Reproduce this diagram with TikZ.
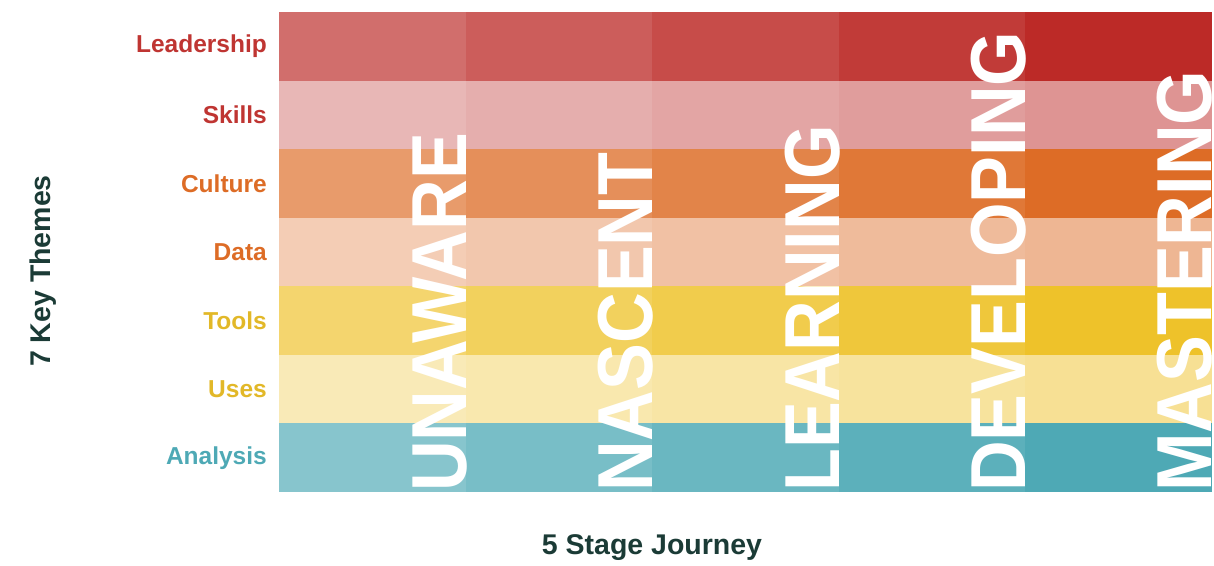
\documentclass[tikz,border=0pt]{standalone}
\usepackage{fontspec}
\setmainfont{Liberation Sans}
\usetikzlibrary{positioning}

\definecolor{leadred}{HTML}{BC2A27}
\definecolor{cultorange}{HTML}{DD6C26}
\definecolor{toolyellow}{HTML}{EEC22A}
\definecolor{analteal}{HTML}{4EA9B5}
\definecolor{axisgreen}{HTML}{1B3B36}

\begin{document}
\begin{tikzpicture}[
    x=1pt, y=-1pt,
    theme/.style={anchor=east, inner sep=0pt, font=\fontsize{24.5}{24.5}\selectfont\bfseries},
    axis/.style={inner sep=0pt, text=axisgreen, font=\fontsize{28.5}{28.5}\selectfont\bfseries},
    stage/.style={anchor=base west, rotate=90, inner sep=0pt, text=white,
                  font=\fontsize{78}{78}\selectfont\bfseries},
]
    \useasboundingbox (0,0) rectangle (1214,565);

    % Grid of coloured cells, 7 rows by 5 columns
    \foreach \row/\base/\pct in {0/leadred/100, 1/leadred/50, 2/cultorange/100,
                                  3/cultorange/50, 4/toolyellow/100, 5/toolyellow/50,
                                  6/analteal/100}{
        \foreach \col/\op in {0/68, 1/76, 2/84, 3/92, 4/100}{
            \pgfmathsetmacro\mix{\pct*\op/100}
            \fill[\base!\mix!white] (279+\col*186.6, 12+\row*68.57)
                rectangle ++(186.6, 68.57);
        }
    }

    % Theme names
    \node[theme, text=leadred!95!white]    (Lead) at (267, 46.3)  {Leadership};
    \node[theme, text=leadred!95!white]    (Skil) at (267, 114.9) {Skills};
    \node[theme, text=cultorange]          (Cult) at (267, 183.4) {Culture};
    \node[theme, text=cultorange]          (Data) at (267, 252.0) {Data};
    \node[theme, text=toolyellow!95!black] (Tool) at (267, 320.6) {Tools};
    \node[theme, text=toolyellow!95!black] (Uses) at (267, 389.1) {Uses};
    \node[theme, text=analteal]            (Anal) at (267, 457.7) {Analysis};

    % Stage words, cut off at the grid
    \begin{scope}
        \clip (279,12) rectangle (1212,492);
        \node[stage] (Unaw) at (466.0, 492) {\scalebox{0.9}[1]{UNAWARE}};
        \node[stage] (Nasc) at (652.6, 492) {\scalebox{0.9}[1]{NASCENT}};
        \node[stage] (Lear) at (839.2, 492) {\scalebox{0.9}[1]{LEARNING}};
        \node[stage] (Deve) at (1025.8, 492) {\scalebox{0.9}[1]{DEVELOPING}};
        \node[stage] (Mast) at (1211.5, 492) {\scalebox{0.9}[1]{MASTERING}};
    \end{scope}

    % Axis titles
    \node[axis, rotate=90] (Themes)  at (43, 271)  {7 Key Themes};
    \node[axis]            (Journey) at (652, 548) {5 Stage Journey};

\end{tikzpicture}
\end{document}
